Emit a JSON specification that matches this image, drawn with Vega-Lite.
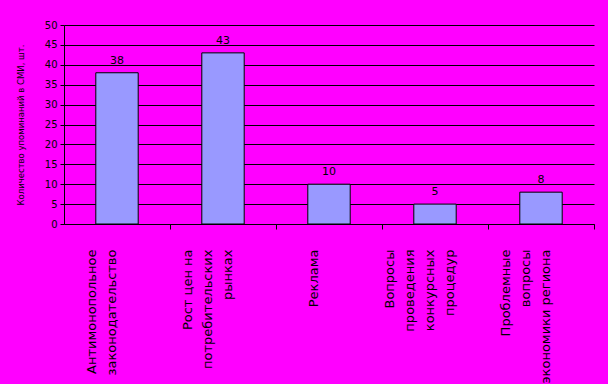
{
  "$schema": "https://vega.github.io/schema/vega-lite/v6.json",
  "width": 530,
  "height": 199,
  "autosize": {"type": "none"},
  "padding": {"left": 64, "top": 25, "right": 14, "bottom": 160},
  "background": "#FF00FF",
  "config": {
    "view": {"stroke": null},
    "font": "DejaVu Sans"
  },
  "data": {
    "values": [
      {"topic": "Антимонопольное законодательство", "value": 38},
      {"topic": "Рост цен на потребительских рынках", "value": 43},
      {"topic": "Реклама", "value": 10},
      {"topic": "Вопросы проведения конкурсных процедур", "value": 5},
      {"topic": "Проблемные вопросы экономики региона", "value": 8}
    ]
  },
  "encoding": {
    "x": {
      "field": "topic",
      "type": "nominal",
      "sort": null,
      "scale": {"paddingInner": 0.6, "paddingOuter": 0.3},
      "axis": {
        "title": null,
        "labelExpr": "datum.value == 'Антимонопольное законодательство' ? ['Антимонопольное', 'законодательство'] : datum.value == 'Рост цен на потребительских рынках' ? ['Рост цен на', 'потребительских', 'рынках'] : datum.value == 'Вопросы проведения конкурсных процедур' ? ['Вопросы', 'проведения', 'конкурсных', 'процедур'] : datum.value == 'Проблемные вопросы экономики региона' ? ['Проблемные', 'вопросы', 'экономики региона'] : datum.value",
        "labelAngle": -90,
        "labelAlign": "right",
        "labelBaseline": "middle",
        "labelOffset": {
          "condition": [
            {"test": "datum.value == 'Антимонопольное законодательство'", "value": -79},
            {"test": "datum.value == 'Рост цен на потребительских рынках' || datum.value == 'Проблемные вопросы экономики региона'", "value": -89},
            {"test": "datum.value == 'Вопросы проведения конкурсных процедур'", "value": -99}
          ],
          "value": -69
        },
        "labelPadding": 20,
        "labelLineHeight": 20,
        "labelFontSize": 13,
        "labelColor": "black",
        "labelLimit": 300,
        "labelOverlap": false,
        "tickOffset": 53,
        "tickSize": 5,
        "tickColor": "black",
        "domainColor": "black",
        "domainWidth": 1
      }
    },
    "y": {
      "field": "value",
      "type": "quantitative",
      "scale": {"domain": [0, 50], "nice": false},
      "axis": {
        "title": "Количество упоминаний в СМИ, шт.",
        "titleFontSize": 8.5,
        "titleFontWeight": "normal",
        "titleColor": "black",
        "titlePadding": 19,
        "values": [0, 5, 10, 15, 20, 25, 30, 35, 40, 45, 50],
        "labelFontSize": 10,
        "labelColor": "black",
        "labelPadding": 3,
        "tickSize": 4,
        "tickColor": "black",
        "domainColor": "black",
        "grid": true,
        "gridColor": "black",
        "gridWidth": 1,
        "gridOpacity": 1
      }
    }
  },
  "layer": [
    {
      "mark": {"type": "bar", "fill": "#9999FF", "stroke": "black", "strokeWidth": 1}
    },
    {
      "mark": {"type": "text", "baseline": "bottom", "dy": -7, "fontSize": 11, "color": "black"},
      "encoding": {"text": {"field": "value", "type": "quantitative"}}
    }
  ]
}
